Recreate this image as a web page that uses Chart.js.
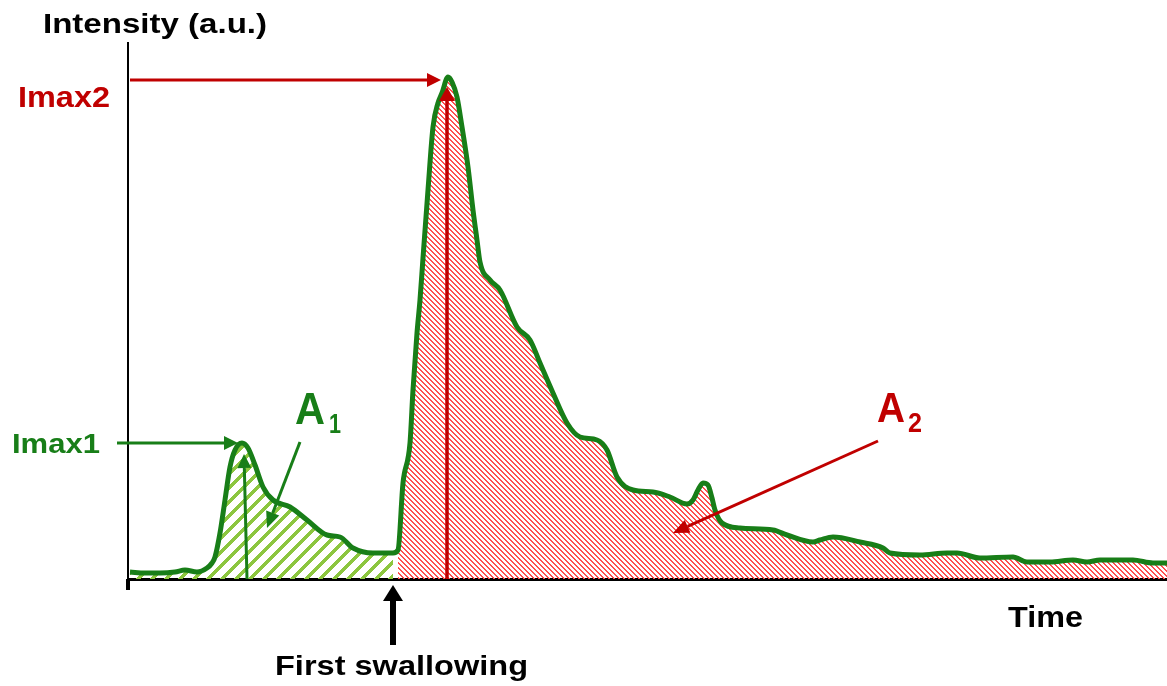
<!DOCTYPE html>
<html>
<head>
<meta charset="utf-8">
<script src="https://cdn.jsdelivr.net/npm/chart.js@4.4.0/dist/chart.umd.min.js"></script>
<style>
  body { margin: 0; background: #fff; }
  canvas { display: block; }
</style>
</head>
<body>
<canvas id="chart" width="1167" height="686"></canvas>
<script>
// time (arbitrary units) and intensity (a.u.)
const time = [
  0.2, 1.7, 3.2, 4.7, 5.7, 6.9, 7.9, 8.4, 8.7, 9.2, 9.7, 10.2, 10.7, 11.4, 12.0,
  12.7, 13.5, 14.5, 16.2, 17.9, 19.9, 21.2, 22.5, 24.5, 26.5,
  27.0, 27.5, 28.2, 28.5, 28.9, 29.2, 29.5, 30.0, 30.5, 31.0, 31.4, 32.0, 32.4,
  32.9, 33.4, 34.0, 34.5, 34.9, 35.2, 36.2, 37.2, 38.9, 40.2, 41.2, 42.5, 43.9,
  45.2, 46.9, 47.9, 48.9, 50.5, 52.5, 54.2, 55.9, 56.5, 57.0, 57.5, 58.0, 58.4,
  58.7, 59.4, 61.2, 64.5, 65.9, 68.5, 69.2, 70.5, 73.2, 75.5, 76.2, 79.2, 81.9,
  82.9, 85.2, 88.5, 89.9, 92.2, 94.5, 95.9, 97.2, 100.5, 102.5, 103.9
];
const intensity = [
  1.4, 1.2, 1.2, 1.4, 1.8, 1.4, 2.2, 3.2, 4.4, 9.2, 15.8, 22.4, 25.8, 27.2, 26.2,
  22.8, 18.4, 15.8, 14.4, 11.8, 8.8, 8.4, 6.2, 5.2, 5.2,
  5.8, 19.2, 27.2, 37.8, 49.2, 55.8, 64.2, 77.8, 90.4, 95.2, 97.2, 100.4, 99.4,
  96.4, 90.4, 82.4, 73.8, 67.8, 63.4, 59.8, 57.8, 50.4, 47.8, 43.2, 37.2, 31.2,
  28.4, 27.8, 25.8, 20.4, 17.8, 17.4, 16.4, 15.0, 15.8, 17.8, 19.2, 18.8, 16.2,
  13.8, 11.2, 10.2, 9.8, 8.8, 7.4, 7.8, 8.4, 7.4, 6.2, 5.2, 4.8, 5.2,
  5.2, 4.2, 4.4, 3.4, 3.4, 3.8, 3.4, 3.8, 3.8, 3.2, 3.2
];
const swallowTime = 26.5;

// pointer arrows into the two areas: [fromX, fromY, toX, toY]
const arrowA1 = [17.2, 27.4, 13.9, 10.2];
const arrowA2 = [75.0, 27.6, 54.5, 9.2];

const GREEN = "#187e18";
const DARK_RED = "#c00000";
const FONT = '"Liberation Sans", Arial, sans-serif';

function hatch(size, width, color, back) {
  const c = document.createElement("canvas");
  c.width = size;
  c.height = size;
  const g = c.getContext("2d");
  const img = g.createImageData(size, size);
  const col = Chart.helpers.color(color);
  for (let py = 0; py < size; py++) {
    for (let px = 0; px < size; px++) {
      const d = back ? (px - py + size) % size : (px + py) % size;
      if (d < width) {
        const i = (py * size + px) * 4;
        img.data[i] = col._rgb.r;
        img.data[i + 1] = col._rgb.g;
        img.data[i + 2] = col._rgb.b;
        img.data[i + 3] = 255;
      }
    }
  }
  g.putImageData(img, 0, 0);
  return g.createPattern(c, "repeat");
}

const points = time.map((t, i) => ({ x: t, y: intensity[i] }));
const before = points.filter((p) => p.x <= swallowTime);
const after = points.filter((p) => p.x > swallowTime);

function arrow(ctx, x1, y1, x2, y2, color, lw, head, half) {
  const a = Math.atan2(y2 - y1, x2 - x1);
  const bx = x2 - head * Math.cos(a);
  const by = y2 - head * Math.sin(a);
  ctx.save();
  ctx.strokeStyle = color;
  ctx.fillStyle = color;
  ctx.lineWidth = lw;
  ctx.beginPath();
  ctx.moveTo(x1, y1);
  ctx.lineTo(bx, by);
  ctx.stroke();
  ctx.beginPath();
  ctx.moveTo(x2, y2);
  ctx.lineTo(bx + half * Math.sin(a), by - half * Math.cos(a));
  ctx.lineTo(bx - half * Math.sin(a), by + half * Math.cos(a));
  ctx.closePath();
  ctx.fill();
  ctx.restore();
}

// bold text squeezed/stretched to the width seen in the picture
function label(ctx, text, x, y, size, width, color) {
  ctx.save();
  ctx.font = `bold ${size}px ${FONT}`;
  ctx.fillStyle = color;
  ctx.textBaseline = "alphabetic";
  const w = ctx.measureText(text).width;
  ctx.translate(x, y);
  ctx.scale(width ? width / w : 1, 1);
  ctx.fillText(text, 0, 0);
  ctx.restore();
}

const annotate = {
  id: "annotate",
  afterDatasetsDraw(chart) {
    const { ctx, chartArea, scales } = chart;
    const sx = (v) => scales.x.getPixelForValue(v);
    const sy = (v) => scales.y.getPixelForValue(v);
    const bottom = sy(0);

    const peak1 = before.reduce((a, b) => (b.y > a.y ? b : a));
    const peak2 = points.reduce((a, b) => (b.y > a.y ? b : a));
    const p1x = sx(peak1.x), p1y = sy(peak1.y);
    const p2x = sx(peak2.x), p2y = sy(peak2.y);

    // Imax2
    arrow(ctx, chartArea.left + 2, p2y + 3, p2x - 7, p2y + 3, DARK_RED, 3, 14, 7);
    arrow(ctx, p2x - 1, bottom, p2x - 1, p2y + 10, DARK_RED, 3.5, 14, 8);
    // Imax1
    arrow(ctx, 117, p1y, p1x - 4, p1y, GREEN, 3, 14, 7);
    arrow(ctx, p1x + 5, bottom, p1x + 2, p1y + 11, GREEN, 3, 14, 7);
    // areas
    arrow(ctx, sx(arrowA1[0]), sy(arrowA1[1]), sx(arrowA1[2]), sy(arrowA1[3]), GREEN, 3, 16, 7);
    arrow(ctx, sx(arrowA2[0]), sy(arrowA2[1]), sx(arrowA2[2]), sy(arrowA2[3]), DARK_RED, 3, 16, 7);
    // first swallowing
    arrow(ctx, sx(swallowTime), bottom + 66, sx(swallowTime), bottom + 6, "#000", 6, 16, 10);

    // small tick below the origin
    ctx.save();
    ctx.fillStyle = "#000";
    ctx.fillRect(chartArea.left - 2, bottom, 4, 11);
    ctx.restore();

    label(ctx, "Intensity (a.u.)", 43, 33, 28, 224, "#000");
    label(ctx, "Imax2", 18, 107, 30, 92, DARK_RED);
    label(ctx, "Imax1", 12, 453, 28, 88, GREEN);
    label(ctx, "A", 295, 424, 44, 30, GREEN);
    label(ctx, "1", 329, 433, 27, 12, GREEN);
    label(ctx, "A", 877, 422, 42, 28, DARK_RED);
    label(ctx, "2", 908, 432, 27, 14, DARK_RED);
    label(ctx, "Time", 1008, 627, 30, 75, "#000");
    label(ctx, "First swallowing", 275, 675, 27, 253, "#000");
  },
};

new Chart(document.getElementById("chart"), {
  type: "line",
  data: {
    datasets: [
      {
        data: points,
        borderColor: GREEN,
        borderWidth: 5,
        cubicInterpolationMode: "monotone",
        pointRadius: 0,
        fill: false,
      },
      {
        data: before,
        borderWidth: 0,
        borderColor: "rgba(0,0,0,0)",
        backgroundColor: hatch(14, 5, "#8cc63f", false),
        cubicInterpolationMode: "monotone",
        pointRadius: 0,
        fill: "origin",
      },
      {
        data: after,
        borderWidth: 1.5,
        borderColor: "#ff2a2a",
        backgroundColor: hatch(5, 2, "#ff5050", true),
        cubicInterpolationMode: "monotone",
        pointRadius: 0,
        fill: "origin",
      },
    ],
  },
  options: {
    responsive: false,
    devicePixelRatio: 1,
    animation: false,
    layout: { padding: { left: 120, top: 43, right: 0, bottom: 99 } },
    plugins: { legend: { display: false }, tooltip: { enabled: false } },
    scales: {
      x: {
        type: "linear",
        min: 0,
        max: 103.9,
        ticks: { display: false },
        grid: { display: false },
        border: { color: "#000", width: 3 },
      },
      y: {
        min: 0,
        max: 107.2,
        ticks: { display: false },
        grid: { display: false },
        border: { color: "#000", width: 2 },
      },
    },
  },
  plugins: [annotate],
});
</script>
</body>
</html>
